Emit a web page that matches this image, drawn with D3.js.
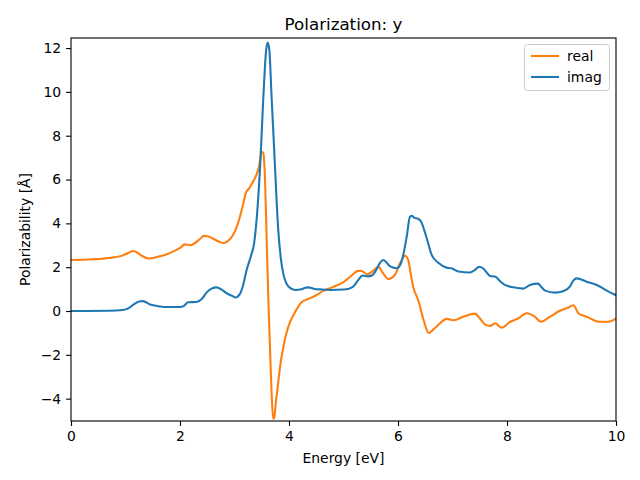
<!DOCTYPE html>
<html>
<head>
<meta charset="utf-8">
<script src="https://cdn.jsdelivr.net/npm/d3@7"></script>
<style>
  html, body { margin: 0; padding: 0; background: #fff; }
  svg { display: block; font-family: "DejaVu Sans", sans-serif; }
</style>
</head>
<body>
<svg id="chart" width="640" height="480"></svg>
<script>
const title = "Polarization: y";
const xLabel = "Energy [eV]";
const yLabel = "Polarizability [Å]";
const seriesNames = ["real", "imag"];
const xTicks = [0, 2, 4, 6, 8, 10];
const yTicks = [-4, -2, 0, 2, 4, 6, 8, 10, 12];

const realEnergy = [0, 0.4, 0.7, 0.95, 1.05, 1.14, 1.22, 1.3, 1.42, 1.6, 1.75, 1.88, 2.0, 2.09, 2.18, 2.25, 2.35, 2.44, 2.52, 2.61, 2.72, 2.8, 2.88, 2.95, 3.02, 3.1, 3.16, 3.21, 3.27, 3.33, 3.4, 3.45, 3.5, 3.53, 3.56, 3.59, 3.62, 3.65, 3.68, 3.71, 3.73, 3.76, 3.8, 3.85, 3.9, 3.96, 4.02, 4.1, 4.17, 4.24, 4.32, 4.4, 4.5, 4.63, 4.81, 5.0, 5.15, 5.25, 5.32, 5.44, 5.55, 5.64, 5.72, 5.82, 5.94, 6.04, 6.13, 6.19, 6.24, 6.28, 6.37, 6.47, 6.56, 6.65, 6.77, 6.89, 7.02, 7.2, 7.41, 7.5, 7.6, 7.69, 7.78, 7.9, 8.06, 8.21, 8.36, 8.51, 8.62, 8.79, 8.97, 9.12, 9.22, 9.31, 9.49, 9.68, 9.86, 9.95, 10];
const realValues = [2.33, 2.36, 2.42, 2.54, 2.65, 2.74, 2.66, 2.52, 2.4, 2.48, 2.58, 2.72, 2.88, 3.04, 3.0, 3.06, 3.25, 3.43, 3.4, 3.3, 3.16, 3.1, 3.2, 3.38, 3.7, 4.3, 4.9, 5.4, 5.6, 5.85, 6.2, 6.6, 7.27, 7.2, 6.0, 3.3, 0.65, -1.6, -3.7, -4.92, -4.86, -4.15, -3.3, -2.3, -1.6, -0.95, -0.5, -0.1, 0.2, 0.42, 0.52, 0.6, 0.72, 0.92, 1.1, 1.32, 1.62, 1.82, 1.84, 1.68, 1.85, 2.02, 1.75, 1.46, 1.64, 2.2, 2.52, 2.3, 1.6, 1.1, 0.5, -0.41, -1.0, -0.84, -0.56, -0.36, -0.42, -0.26, -0.12, -0.33, -0.62, -0.68, -0.56, -0.76, -0.49, -0.33, -0.1, -0.26, -0.49, -0.26, 0.01, 0.15, 0.26, -0.1, -0.29, -0.49, -0.49, -0.42, -0.33];

const imagEnergy = [0, 0.7, 0.95, 1.05, 1.15, 1.25, 1.32, 1.45, 1.6, 1.8, 2.0, 2.08, 2.15, 2.3, 2.4, 2.49, 2.58, 2.67, 2.75, 2.85, 2.95, 3.02, 3.1, 3.16, 3.22, 3.3, 3.36, 3.41, 3.47, 3.53, 3.58, 3.61, 3.64, 3.68, 3.74, 3.8, 3.85, 3.9, 3.96, 4.04, 4.11, 4.23, 4.3, 4.36, 4.45, 4.6, 4.75, 5.0, 5.1, 5.18, 5.27, 5.35, 5.45, 5.52, 5.6, 5.67, 5.73, 5.85, 5.98, 6.05, 6.1, 6.16, 6.22, 6.26, 6.3, 6.36, 6.43, 6.48, 6.53, 6.62, 6.74, 6.89, 6.98, 7.11, 7.32, 7.41, 7.49, 7.56, 7.63, 7.69, 7.78, 7.88, 7.96, 8.12, 8.3, 8.42, 8.57, 8.63, 8.7, 8.88, 9.03, 9.16, 9.22, 9.28, 9.46, 9.65, 9.83, 10];
const imagValues = [0.0, 0.01, 0.05, 0.12, 0.3, 0.43, 0.45, 0.3, 0.22, 0.18, 0.18, 0.25, 0.4, 0.41, 0.55, 0.85, 1.02, 1.08, 1.0, 0.82, 0.7, 0.62, 0.78, 1.2, 1.85, 2.5, 3.1, 4.3, 6.6, 9.8, 11.9, 12.25, 11.9, 9.8, 6.75, 3.8, 2.4, 1.65, 1.22, 1.02, 0.96, 0.99, 1.06, 1.08, 1.02, 0.98, 0.96, 0.98, 1.02, 1.12, 1.41, 1.62, 1.58, 1.62, 1.87, 2.2, 2.33, 2.05, 1.95, 2.15, 2.6, 3.4, 4.3, 4.35, 4.25, 4.22, 4.05, 3.7, 3.3, 2.55, 2.2, 1.98, 1.95, 1.8, 1.76, 1.87, 2.02, 1.95, 1.75, 1.6, 1.57, 1.35, 1.19, 1.08, 1.02, 1.19, 1.25, 1.1, 0.93, 0.84, 0.9, 1.14, 1.4, 1.49, 1.34, 1.19, 0.93, 0.72];

const colors = ["#ff7f0e", "#1f77b4"];

const margin = {left: 71, right: 24, top: 38, bottom: 59};
const W = 640, H = 480;
const svg = d3.select("#chart");

const x = d3.scaleLinear().domain([0, 10]).range([margin.left, W - margin.right]);
const y = d3.scaleLinear().domain([-5.02, 12.46]).range([H - margin.bottom, margin.top]);

const series = [
  {name: seriesNames[0], data: realEnergy.map((e, i) => [e, realValues[i]]), color: colors[0]},
  {name: seriesNames[1], data: imagEnergy.map((e, i) => [e, imagValues[i]]), color: colors[1]}
];

svg.append("defs").append("clipPath").attr("id", "clip")
  .append("rect")
  .attr("x", margin.left).attr("y", margin.top)
  .attr("width", W - margin.left - margin.right)
  .attr("height", H - margin.top - margin.bottom);

const line = d3.line().x(d => x(d[0])).y(d => y(d[1])).curve(d3.curveMonotoneX);

svg.append("g").attr("clip-path", "url(#clip)")
  .selectAll("path").data(series).join("path")
  .attr("d", d => line(d.data))
  .attr("fill", "none")
  .attr("stroke", d => d.color)
  .attr("stroke-width", 1.5 * 100 / 72)
  .attr("stroke-linejoin", "round")
  .attr("stroke-linecap", "square");

const fmt = v => (v < 0 ? "\u2212" + Math.abs(v) : String(v));

const xAxis = svg.append("g")
  .attr("transform", `translate(0,${H - margin.bottom})`)
  .call(d3.axisBottom(x).tickValues(xTicks).tickFormat(fmt).tickSizeOuter(0).tickSize(4.9).tickPadding(4.9));
const yAxis = svg.append("g")
  .attr("transform", `translate(${margin.left},0)`)
  .call(d3.axisLeft(y).tickValues(yTicks).tickFormat(fmt).tickSizeOuter(0).tickSize(4.9).tickPadding(4.9));

[xAxis, yAxis].forEach(a => {
  a.select(".domain").remove();
  a.selectAll(".tick line").attr("stroke", "#000").attr("stroke-width", 0.8 * 100 / 72);
  a.selectAll(".tick text").attr("fill", "#000").style("font-size", "13.9px").style("font-family", "'DejaVu Sans', sans-serif");
});

// spines
svg.append("rect")
  .attr("x", margin.left).attr("y", margin.top)
  .attr("width", W - margin.left - margin.right)
  .attr("height", H - margin.top - margin.bottom)
  .attr("fill", "none").attr("stroke", "#000").attr("stroke-width", 0.8 * 100 / 72);

// title
svg.append("text")
  .attr("x", (margin.left + W - margin.right) / 2).attr("y", 30)
  .attr("text-anchor", "middle")
  .style("font-size", "16.7px")
  .text(title);

// axis labels
svg.append("text")
  .attr("x", (margin.left + W - margin.right) / 2).attr("y", 463)
  .attr("text-anchor", "middle")
  .style("font-size", "13.9px")
  .text(xLabel);

svg.append("text")
  .attr("transform", `translate(30,${(margin.top + H - margin.bottom) / 2}) rotate(-90)`)
  .attr("text-anchor", "middle")
  .style("font-size", "13.9px")
  .text(yLabel);

// legend
const lg = svg.append("g");
lg.append("rect")
  .attr("x", 524.5).attr("y", 44.5).attr("width", 85).attr("height", 46)
  .attr("rx", 3).attr("ry", 3)
  .attr("fill", "#fff").attr("fill-opacity", 0.8)
  .attr("stroke", "#ccc").attr("stroke-width", 1);
series.forEach((s, i) => {
  const yy = 56 + i * 21;
  lg.append("line")
    .attr("x1", 531).attr("x2", 559).attr("y1", yy).attr("y2", yy)
    .attr("stroke", s.color).attr("stroke-width", 1.5 * 100 / 72);
  lg.append("text")
    .attr("x", 567).attr("y", yy + 5)
    .style("font-size", "13.9px")
    .text(s.name);
});
</script>
</body>
</html>
